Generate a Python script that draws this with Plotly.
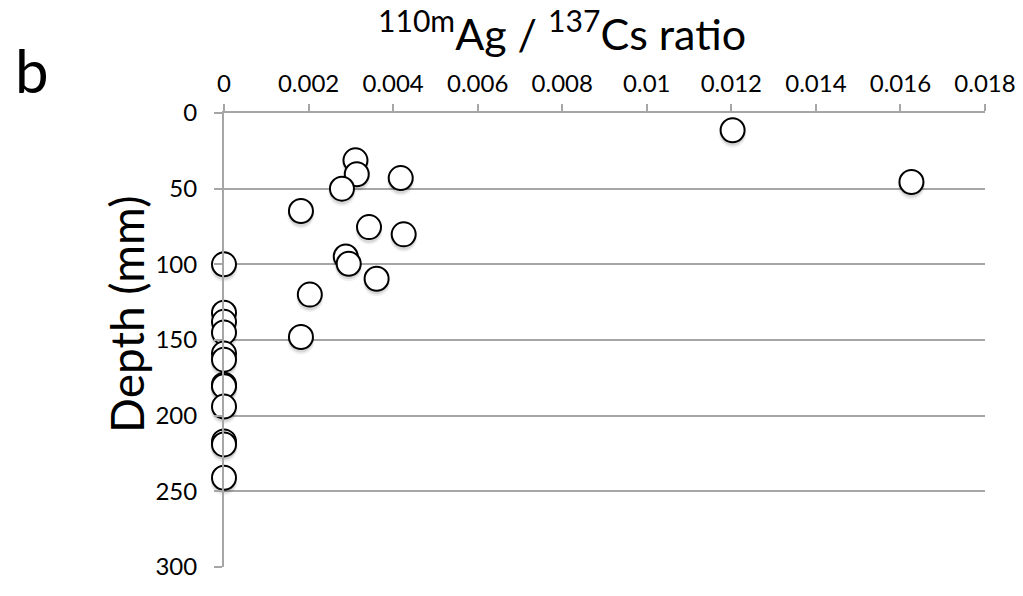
import plotly.graph_objects as go

# 110mAg / 137Cs activity ratio versus sediment depth
ratio = [0.01203, 0.00311, 0.00314, 0.00418, 0.01626, 0.00279, 0.00182,
         0.00343, 0.00425, 0.00288, 0.00295, 0.0, 0.00361, 0.00203, 0.00182,
         0.0, 0.0, 0.0, 0.0, 0.0, 0.0, 0.0, 0.0, 0.0, 0.0, 0.0]
depth_mm = [11.4, 31.3, 40.5, 43.0, 45.6, 50.0, 64.8,
            75.4, 80.2, 94.8, 99.6, 100.0, 109.5, 120.0, 148.0,
            132.0, 138.0, 145.0, 159.0, 163.0, 179.5, 180.5, 194.0, 217.0, 219.0, 241.0]

x_ticks = [0, 0.002, 0.004, 0.006, 0.008, 0.01, 0.012, 0.014, 0.016, 0.018]
x_tick_text = ["0", "0.002", "0.004", "0.006", "0.008", "0.01", "0.012", "0.014", "0.016", "0.018"]
y_ticks = [0, 50, 100, 150, 200, 250, 300]

FONT = "Lato, 'Open Sans', sans-serif"
AXIS_GREY = "#a6a6a6"

fig = go.Figure()

# soft drop shadow under each marker (a couple of faint layers nudged downwards)
for nudge, size, alpha in [(2.6, 27, 0.06), (2.0, 25, 0.10)]:
    fig.add_trace(go.Scatter(
        x=ratio, y=[d + nudge for d in depth_mm], mode="markers",
        marker=dict(size=size, color=f"rgba(0,0,0,{alpha})", line=dict(width=0)),
        cliponaxis=False, showlegend=False, hoverinfo="skip",
    ))

fig.add_trace(go.Scatter(
    x=ratio, y=depth_mm, mode="markers",
    marker=dict(size=24, color="white", line=dict(color="black", width=2)),
    cliponaxis=False, showlegend=False,
))

# plot area spans 224..985 px horizontally and 113..567 px vertically
L, R, T, B = 224, 985, 113, 567
W, H = 1023, 596


def px(xp, yp):
    return (xp - L) / (R - L), (B - yp) / (B - T)


fig.update_layout(
    width=W, height=H,
    margin=dict(l=L, r=W - R, t=T, b=H - B, autoexpand=False),
    paper_bgcolor="white", plot_bgcolor="white",
    font=dict(family=FONT, color="black", size=24),
    xaxis=dict(
        side="top", range=[0, 0.018], tickvals=x_ticks, ticktext=x_tick_text,
        showgrid=False, zeroline=False, showline=True, linecolor=AXIS_GREY,
        linewidth=2, ticks="outside", ticklen=7, tickwidth=2, tickcolor=AXIS_GREY,
        tickfont=dict(size=24), ticklabelstandoff=2, automargin=False,
    ),
    yaxis=dict(
        range=[300, 0], tickvals=y_ticks, showgrid=True, gridcolor=AXIS_GREY,
        gridwidth=2, zeroline=False, showline=True, linecolor=AXIS_GREY,
        linewidth=2, ticks="outside", ticklen=8, tickwidth=2, tickcolor=AXIS_GREY,
        tickfont=dict(size=24), ticklabelstandoff=12, automargin=False,
    ),
)

tx, ty = px(562, 31)
fig.add_annotation(text="<sup>110m</sup>Ag / <sup>137</sup>Cs ratio", x=tx, y=ty,
                   xref="paper", yref="paper", showarrow=False,
                   xanchor="center", yanchor="middle", font=dict(size=43, family=FONT))
bx, by = px(32, 70)
fig.add_annotation(text="b", x=bx, y=by, xref="paper", yref="paper", showarrow=False,
                   xanchor="center", yanchor="middle", font=dict(size=60, family=FONT))
dx, dy = px(126, 314)
fig.add_annotation(text="Depth (mm)", x=dx, y=dy, xref="paper", yref="paper",
                   showarrow=False, textangle=-90, xanchor="center", yanchor="middle",
                   font=dict(size=46, family=FONT))

fig.write_html("out.html")
